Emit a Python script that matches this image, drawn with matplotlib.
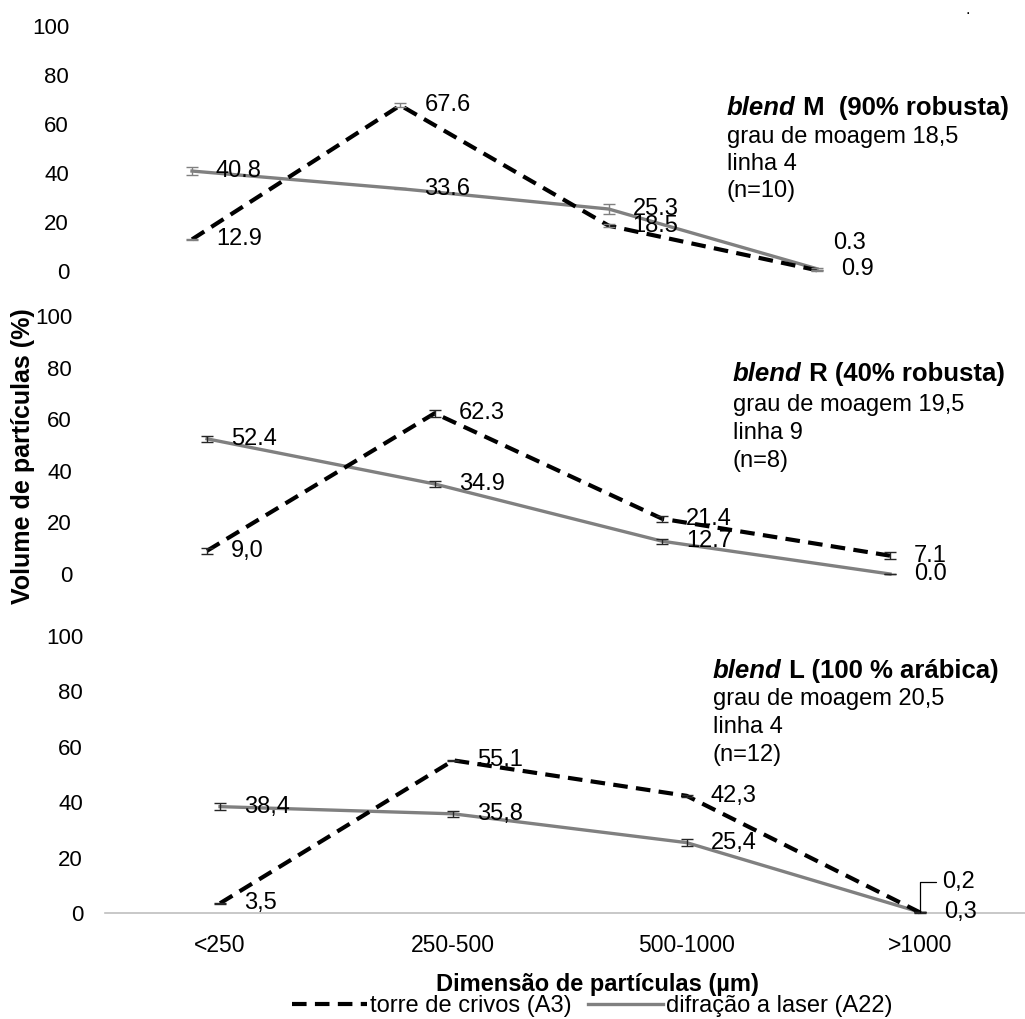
import matplotlib
matplotlib.use('Agg')
import matplotlib.pyplot as plt
from matplotlib.lines import Line2D

plt.rcParams['font.family'] = ['Liberation Sans', 'DejaVu Sans']
plt.rcParams['lines.scale_dashes'] = False

# ---------------- data ----------------
categories = ['<250', '250-500', '500-1000', '>1000']
yticks = [0, 20, 40, 60, 80, 100]
series_names = ['torre de crivos (A3)', 'difração a laser (A22)']

# blend M
m_crivos = [12.9, 67.6, 18.5, 0.3]
m_laser = [40.8, 33.6, 25.3, 0.9]
m_crivos_err = [0.3, 0.8, 0.5, 0.3]
m_laser_err = [1.8, 0.3, 2.0, 0.3]
m_crivos_lbl = ['12.9', '67.6', '18.5', '0.3']
m_laser_lbl = ['40.8', '33.6', '25.3', '0.9']
m_text = ['grau de moagem 18,5', 'linha 4', '(n=10)']

# blend R
r_crivos = [9.0, 62.3, 21.4, 7.1]
r_laser = [52.4, 34.9, 12.7, 0.0]
r_crivos_err = [1.1, 1.3, 1.2, 1.3]
r_laser_err = [1.1, 1.0, 1.0, 0.0]
r_crivos_lbl = ['9,0', '62.3', '21.4', '7.1']
r_laser_lbl = ['52.4', '34.9', '12.7', '0.0']
r_text = ['grau de moagem 19,5', 'linha 9', '(n=8)']

# blend L
l_crivos = [3.5, 55.1, 42.3, 0.2]
l_laser = [38.4, 35.8, 25.4, 0.3]
l_crivos_err = [0.2, 0.3, 0.3, 0.2]
l_laser_err = [1.3, 1.2, 1.2, 0.1]
l_crivos_lbl = ['3,5', '55,1', '42,3', '0,2']
l_laser_lbl = ['38,4', '35,8', '25,4', '0,3']
l_text = ['grau de moagem 20,5', 'linha 4', '(n=12)']

titles = [('blend', ' M  (90% robusta)'), ('blend', ' R (40% robusta)'), ('blend', ' L (100 % arábica)')]

# ---------------- layout (pixels) ----------------
W, H = 1025, 1019
fig = plt.figure(figsize=(W / 100, H / 100), dpi=100)

# left, right, y of 0, y of 100, x of first cat, x of last cat
geoms = [
    (91, 1020, 271, 26, 192, 817),
    (94, 1020, 574, 316, 207, 890),
    (105, 1025, 913, 636, 220, 920),
]
title_pos = [(727, 108), (733, 374), (713, 671)]
line_gap = [(29, 27), (31, 28), (28, 28)]
err_colors = ['#808080', '#262626', '#262626']

DASH_COL = 'black'
SOLID_COL = '#808080'
FS = 17
TFS = 18.5

panels = [
    (m_crivos, m_laser, m_crivos_err, m_laser_err, m_crivos_lbl, m_laser_lbl, m_text),
    (r_crivos, r_laser, r_crivos_err, r_laser_err, r_crivos_lbl, r_laser_lbl, r_text),
    (l_crivos, l_laser, l_crivos_err, l_laser_err, l_crivos_lbl, l_laser_lbl, l_text),
]

# label offsets in pixels (dx, dy) ; default right of point
default_off = (24, 0)
special_off = {
    (0, 'c', 3): (16, 27),
    (2, 'c', 3): (22, 30),
}

xs = list(range(len(categories)))
for p, (geom, data) in enumerate(zip(geoms, panels)):
    left, right, y0, y100, c0, c3 = geom
    crivos, laser, cerr, lerr, clbl, llbl, txt = data
    ax = fig.add_axes([left / W, 1 - y0 / H, (right - left) / W, (y0 - y100) / H])
    sp = (c3 - c0) / 3.0
    ax.set_xlim((left - c0) / sp, (right - c0) / sp)
    ax.set_ylim(0, 100)
    ax.set_yticks(yticks)
    ax.set_yticklabels([str(t) for t in yticks], fontsize=16)
    ax.tick_params(axis='y', length=0, pad=15.8)
    for s in ['top', 'right', 'left', 'bottom']:
        ax.spines[s].set_visible(False)
    ax.patch.set_alpha(0)
    if p == 2:
        ax.spines['bottom'].set_visible(True)
        ax.spines['bottom'].set_color('#BFBFBF')
        ax.spines['bottom'].set_linewidth(1.2)
        ax.set_xticks(xs)
        ax.set_xticklabels(categories, fontsize=16.5)
        ax.tick_params(axis='x', length=0, pad=15)
    else:
        ax.set_xticks([])

    ax.plot(xs, laser, color=SOLID_COL, lw=2.4, clip_on=False, zorder=3)
    ax.plot(xs, crivos, color=DASH_COL, lw=3.0, dashes=(10.5, 6), clip_on=False, zorder=4)
    ax.errorbar(xs, laser, yerr=lerr, fmt='none', ecolor=err_colors[p], elinewidth=1,
                capsize=4.3, capthick=1, clip_on=False, zorder=5)
    ax.errorbar(xs, crivos, yerr=cerr, fmt='none', ecolor=err_colors[p], elinewidth=1,
                capsize=4.3, capthick=1, clip_on=False, zorder=5)

    for i in xs:
        dx, dy = special_off.get((p, 'l', i), default_off)
        ax.annotate(llbl[i], xy=(i, laser[i]), xytext=(dx, dy), textcoords='offset pixels',
                    ha='left', va='center', fontsize=FS, zorder=6, annotation_clip=False)
        key = (p, 'c', i)
        dx, dy = special_off.get(key, default_off)
        if p == 2 and i == 3:
            ax.annotate(clbl[i], xy=(i, crivos[i]), xytext=(dx, dy), textcoords='offset pixels',
                        ha='left', va='center', fontsize=FS, zorder=6, annotation_clip=False,
                        arrowprops=dict(arrowstyle='-', color='black', lw=0.9,
                                        connectionstyle='angle,angleA=0,angleB=90,rad=0',
                                        shrinkA=2, shrinkB=0))
        else:
            ax.annotate(clbl[i], xy=(i, crivos[i]), xytext=(dx, dy), textcoords='offset pixels',
                        ha='left', va='center', fontsize=FS, zorder=6, annotation_clip=False)

    # text block
    tx, ty = title_pos[p]
    g1, g2 = line_gap[p]
    t1 = fig.text(tx / W, 1 - ty / H, titles[p][0], fontsize=TFS, fontweight='bold',
                  fontstyle='italic', ha='left', va='center')
    ax.annotate(titles[p][1], xy=(1, 0), xycoords=t1, ha='left', va='bottom',
                fontsize=TFS, fontweight='bold', annotation_clip=False)
    yy = ty + g1
    for k, line in enumerate(txt):
        fig.text(tx / W, 1 - yy / H, line, fontsize=FS, ha='left', va='center')
        yy += g2

# axis labels
fig.text(23 / W, 1 - 456 / H, 'Volume de partículas (%)', rotation=90, fontsize=18,
         fontweight='bold', ha='center', va='center')
fig.text(597 / W, 1 - 985 / H, 'Dimensão de partículas (µm)', fontsize=17,
         fontweight='bold', ha='center', va='center')
fig.text(968 / W, 1 - 10 / H, '.', fontsize=12, ha='center', va='center')

handles = [Line2D([], [], color=DASH_COL, lw=3.0, dashes=(10.5, 6)),
           Line2D([], [], color=SOLID_COL, lw=2.4)]
fig.legend(handles, series_names, loc='center', bbox_to_anchor=(592 / W, 1 - 1006 / H),
           ncol=2, frameon=False, fontsize=17, handlelength=3.2, handletextpad=0.1,
           columnspacing=0.7, borderpad=0, borderaxespad=0)

fig.savefig('out.png', dpi=100)
